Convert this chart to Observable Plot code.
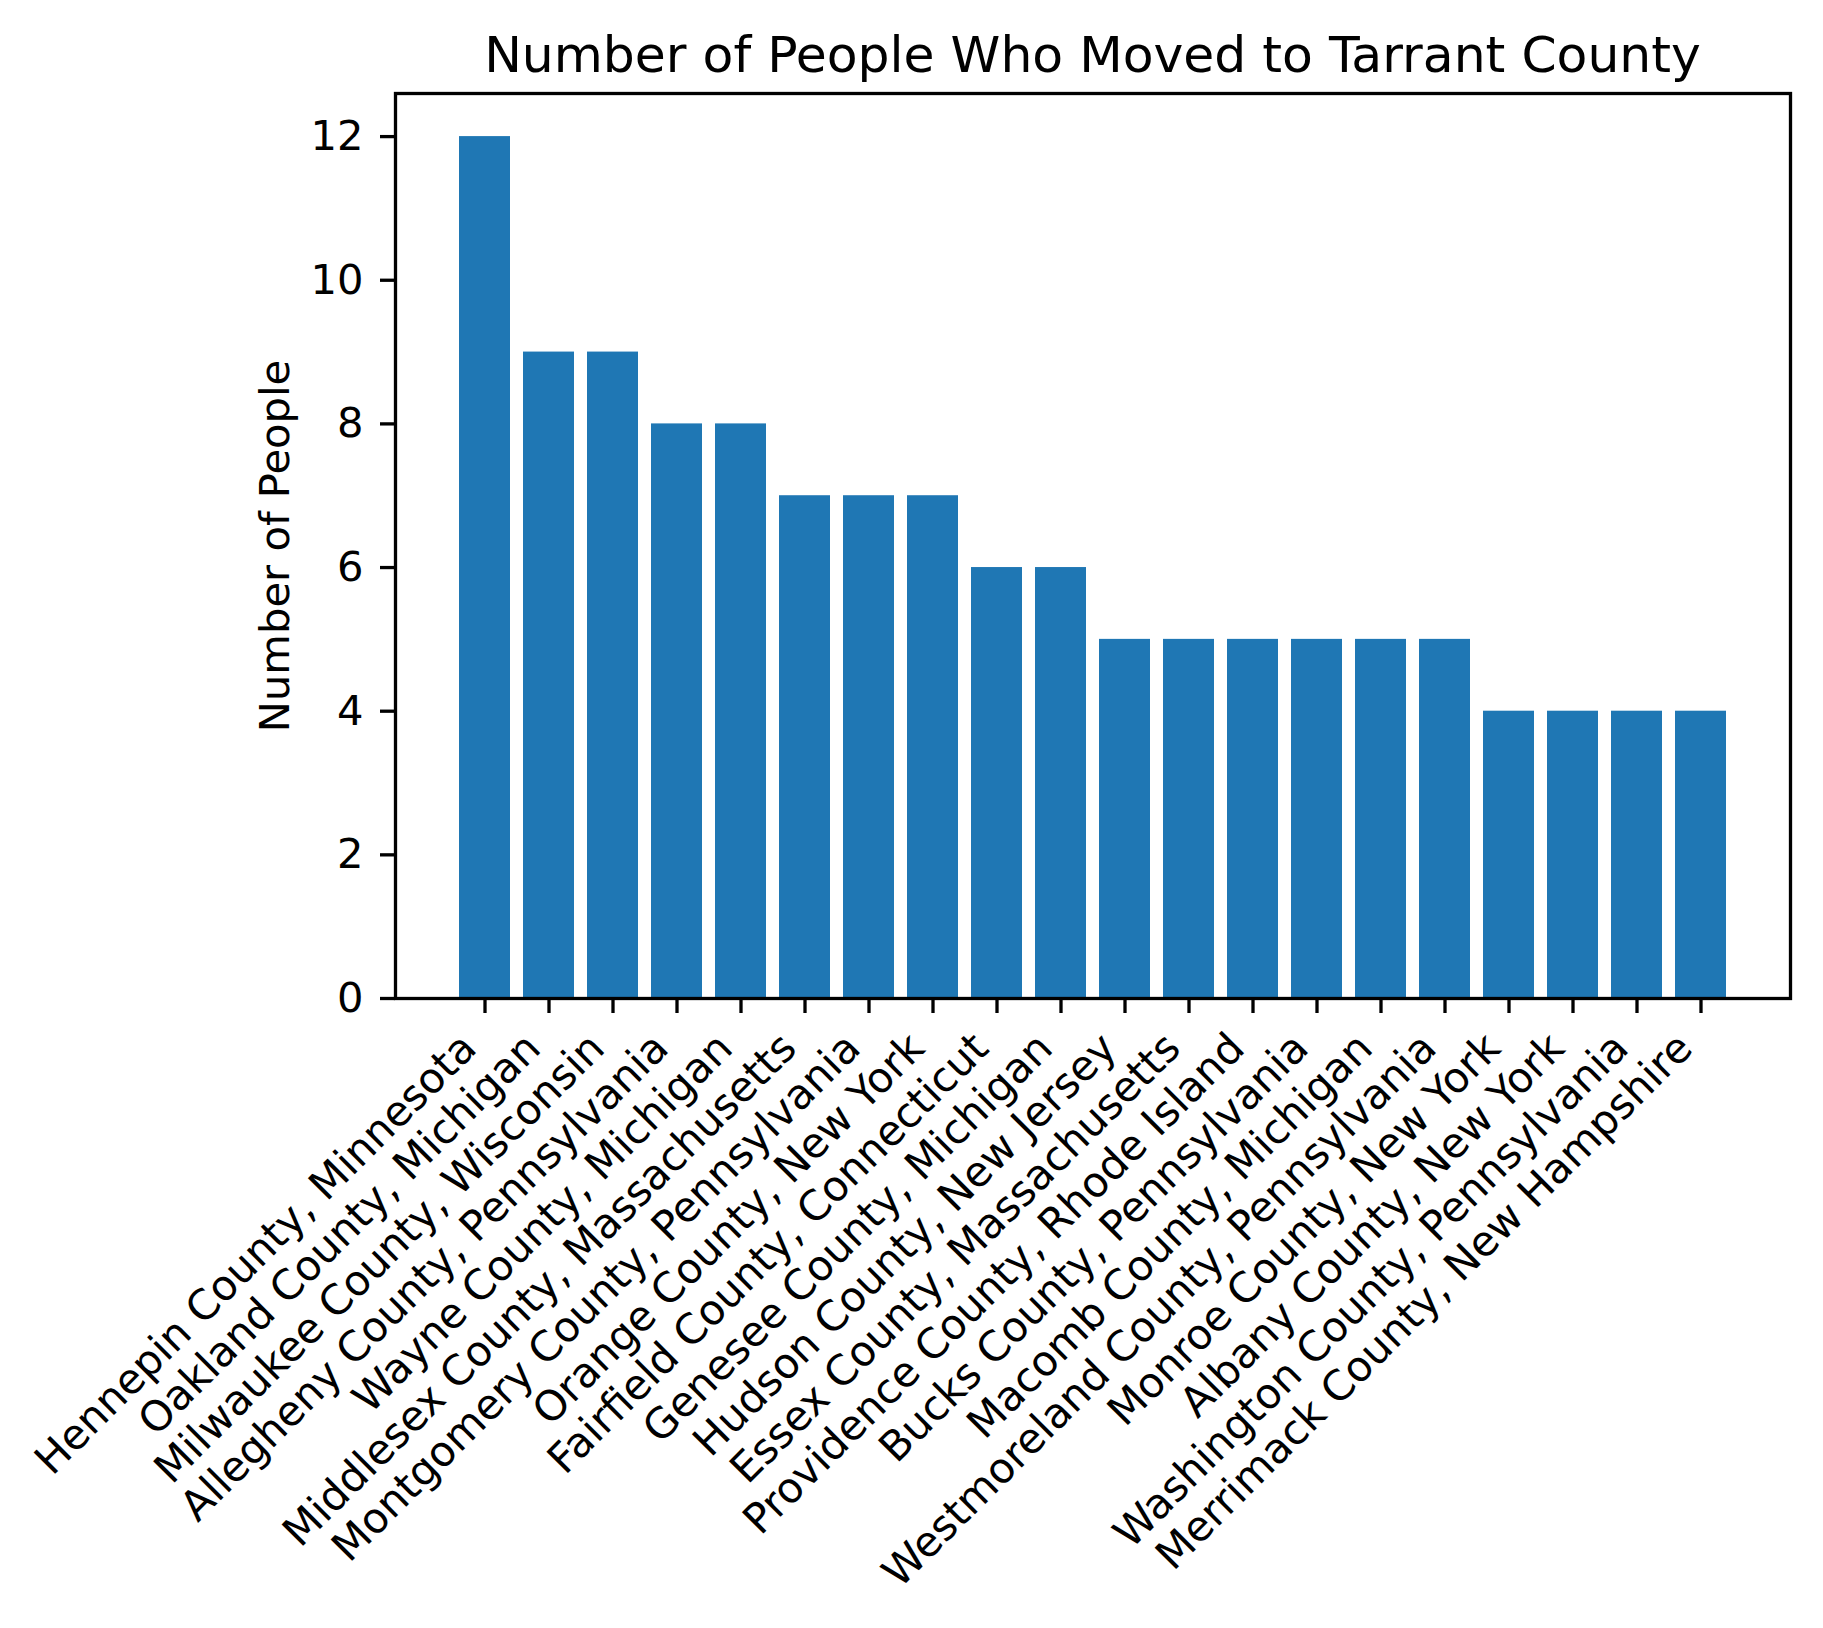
<!DOCTYPE html>
<html>
<head>
<meta charset="utf-8">
<script src="https://cdn.jsdelivr.net/npm/d3@7"></script>
<script src="https://cdn.jsdelivr.net/npm/@observablehq/plot@0.6"></script>
<style>
  html, body { margin: 0; padding: 0; background: white; }
  #title { box-sizing: border-box; height: 80px; padding-top: 30px; line-height: 50px;
    font-family: "DejaVu Sans", sans-serif; font-size: 50.4px; color: black;
    width: 1823px; padding-left: 395px; padding-right: 33px; text-align: center; white-space: nowrap; }
</style>
</head>
<body>
<div id="title">Number of People Who Moved to Tarrant County</div>
<div id="chart"></div>
<script>
const names = [
  "Hennepin County, Minnesota",
  "Oakland County, Michigan",
  "Milwaukee County, Wisconsin",
  "Allegheny County, Pennsylvania",
  "Wayne County, Michigan",
  "Middlesex County, Massachusetts",
  "Montgomery County, Pennsylvania",
  "Orange County, New York",
  "Fairfield County, Connecticut",
  "Genesee County, Michigan",
  "Hudson County, New Jersey",
  "Essex County, Massachusetts",
  "Providence County, Rhode Island",
  "Bucks County, Pennsylvania",
  "Macomb County, Michigan",
  "Westmoreland County, Pennsylvania",
  "Monroe County, New York",
  "Albany County, New York",
  "Washington County, Pennsylvania",
  "Merrimack County, New Hampshire"
];
const values = [12, 9, 9, 8, 8, 7, 7, 7, 6, 6, 5, 5, 5, 5, 5, 5, 4, 4, 4, 4];
const yTicks = [0, 2, 4, 6, 8, 10, 12];
const yLabel = "Number of People";

const data = names.map((n, i) => ({name: n, value: values[i]}));
const fs = 41.67;

const chart = Plot.plot({
  width: 1823,
  height: 1548,
  marginTop: 13,
  marginBottom: 630,
  marginLeft: 395,
  marginRight: 33,
  style: {fontFamily: "DejaVu Sans", fontSize: fs + "px", background: "white", color: "black", overflow: "visible"},
  x: {domain: names, paddingInner: 0.2, paddingOuter: 0.99, align: 0.5, label: null},
  y: {domain: [0, 12.6], label: null},
  marks: [
    Plot.barY(data, {x: "name", y: "value", fill: "#1f77b4", insetLeft: 0, insetRight: 0}),
    Plot.axisY({ticks: yTicks, tickSize: 15, tickPadding: 17, strokeWidth: 3.3, label: null, fontSize: fs, tickFormat: d => String(d)}),
    Plot.axisX({tickSize: 15, strokeWidth: 3.3, tickFormat: () => "", label: null}),
    Plot.text(data, {x: "name", text: "name", frameAnchor: "bottom", rotate: -45, textAnchor: "end", lineAnchor: "bottom", dx: -6.4, dy: 52, fontSize: fs, fill: "black"}),
    Plot.text([yLabel], {text: d => d, frameAnchor: "left", rotate: -90, textAnchor: "middle", lineAnchor: "bottom", dx: -107, fontSize: fs, fill: "black"}),
    Plot.frame({stroke: "black", strokeWidth: 3.3})
  ]
});
document.getElementById("chart").appendChild(chart);
</script>
</body>
</html>
